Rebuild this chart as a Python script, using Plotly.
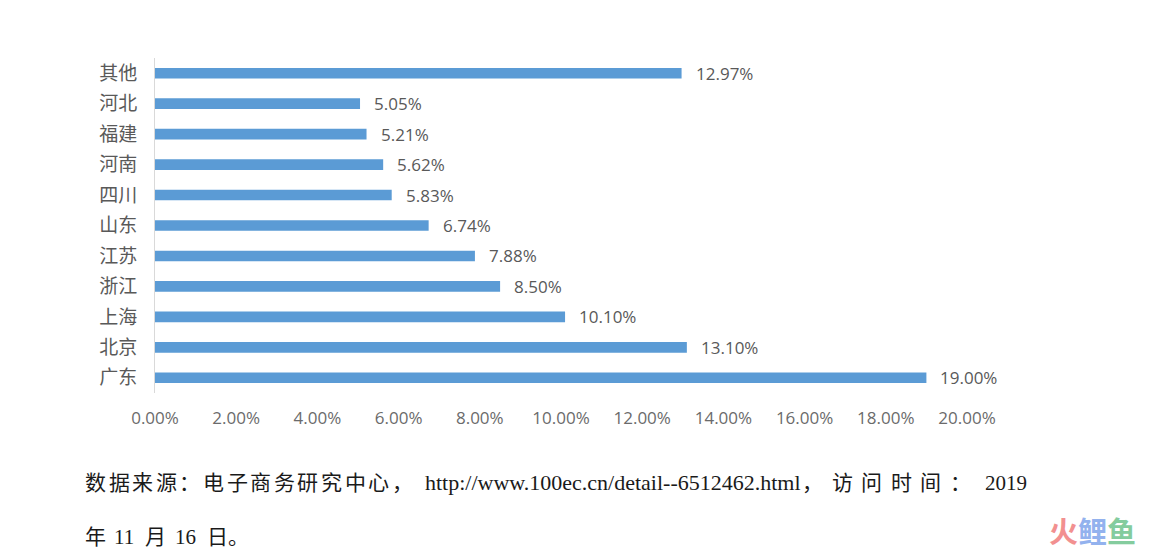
import plotly.graph_objects as go

categories = ["广东", "北京", "上海", "浙江", "江苏", "山东", "四川", "河南", "福建", "河北", "其他"]
values = [19.00, 13.10, 10.10, 8.50, 7.88, 6.74, 5.83, 5.62, 5.21, 5.05, 12.97]
tick_vals = [0, 2, 4, 6, 8, 10, 12, 14, 16, 18, 20]
tick_text = ["0.00%", "2.00%", "4.00%", "6.00%", "8.00%", "10.00%", "12.00%", "14.00%", "16.00%", "18.00%", "20.00%"]
src_a = "数据来源：电子商务研究中心，"
src_url = "http://www.100ec.cn/detail--6512462.html"
src_b = "，访问时间："
src_year = "2019"
src_line2 = ["年", "11", "月", "16", "日", "。"]

# page has an 8px body margin; work in page pixels and convert
OFF = 8
W, H = 1169 - 2 * OFF, 560 - 2 * OFF
PL, PR, PT, PB = 155 - OFF, 967 - OFF, 58 - OFF, 393 - OFF

def px(x):
    return (x - OFF - PL) / (PR - PL)

def py(y):
    return (H - (y - OFF) - (H - PB)) / (PB - PT)

fig = go.Figure()
fig.add_trace(go.Bar(
    y=categories, x=values, orientation="h",
    marker=dict(color="#5B9BD5", line=dict(width=0)),
    width=0.35,
    hoverinfo="x+y",
))

label_font = dict(family="Open Sans, Lato, sans-serif", size=17, color="#595959")
annotations = []
for c, v in zip(categories, values):
    annotations.append(dict(x=v, y=c, xref="x", yref="y", text=f"{v:.2f}%",
                            showarrow=False, xanchor="left", yanchor="middle",
                            xshift=12, font=label_font))

cjk_font = dict(family="Liberation Serif, Noto Sans CJK SC, serif", size=21, color="#1a1a1a")
url_font = dict(family="Liberation Serif, serif", size=22, color="#1a1a1a")
year_font = dict(family="Liberation Serif, serif", size=21, color="#1a1a1a")

def note(text, x, y, font):
    annotations.append(dict(text=text, x=px(x), y=py(y), xref="paper", yref="paper",
                            showarrow=False, xanchor="left", yanchor="middle", font=font))

def spaced(text, x0, pitch, y, font):
    # justified text: one glyph per fixed pitch
    for i, ch in enumerate(text):
        note(ch, x0 + i * pitch, y, font)

spaced(src_a, 83, 23.6, 483, cjk_font)
note(src_url, 423, 483, url_font)
spaced(src_b, 800, 29.5, 483, cjk_font)
note(src_year, 983, 483, year_font)

line2_x = [83, 112, 143, 173, 205, 226]
for tok, x in zip(src_line2, line2_x):
    note(tok, x, 537, cjk_font)

annotations.append(dict(
    text="<b><span style='color:#F29090'>火</span><span style='color:#93B2EE'>鲤</span><span style='color:#84CC9E'>鱼</span></b>",
    x=px(1092), y=py(530), xref="paper", yref="paper",
    showarrow=False, xanchor="center", yanchor="middle", borderpad=0,
    font=dict(family="Noto Sans CJK SC, sans-serif", size=29)))

fig.update_layout(
    width=W, height=H,
    margin=dict(l=PL, r=W - PR, t=PT, b=H - PB),
    plot_bgcolor="white", paper_bgcolor="white",
    showlegend=False,
    xaxis=dict(range=[0, 20], tickvals=tick_vals, ticktext=tick_text,
               showgrid=False, zeroline=False, showline=False,
               ticks="", ticklabelstandoff=13, fixedrange=True,
               tickfont=dict(family="Open Sans, Lato, sans-serif", size=17, color="#6b6b6b")),
    yaxis=dict(categoryorder="array", categoryarray=categories,
               showgrid=False, zeroline=False, showline=True, fixedrange=True,
               linecolor="#D9D9D9", linewidth=1, ticks="", ticklabelstandoff=13,
               tickfont=dict(family="Noto Sans CJK SC, sans-serif", size=19, color="#595959")),
    annotations=annotations,
)
fig.write_html("out.html")
